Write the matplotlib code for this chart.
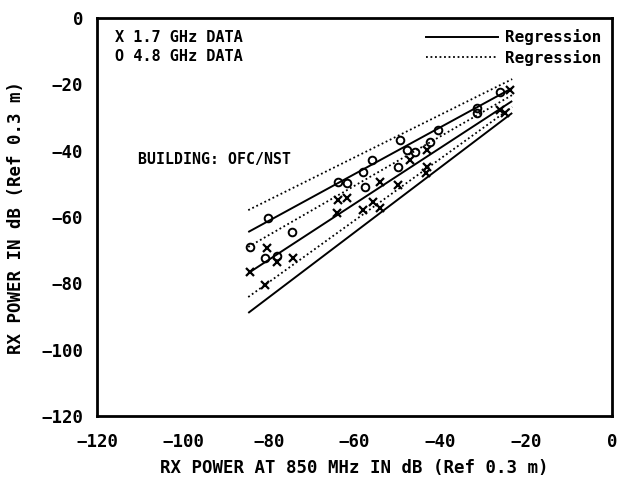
import matplotlib
matplotlib.use("Agg")
import matplotlib.pyplot as plt
from matplotlib.lines import Line2D

# ---- data ----
x_ticks = [-120, -100, -80, -60, -40, -20, 0]
y_ticks = [0, -20, -40, -60, -80, -100, -120]

o_x = [-80.1, -74.5, -84.3, -80.8, -78.0, -63.8, -61.7, -58.0, -55.9, -57.5,
       -49.8, -49.4, -47.7, -45.9, -42.4, -40.7, -31.4, -31.4, -26.1]
o_y = [-60.3, -64.5, -69.0, -72.4, -71.8, -49.4, -49.7, -46.4, -42.8, -51.0,
       -44.9, -36.8, -39.8, -40.4, -37.4, -33.8, -27.1, -28.6, -22.3]

x_x = [-80.4, -84.3, -78.0, -74.3, -80.8, -63.8, -61.7, -64.1, -58.0, -55.7,
       -54.0, -54.0, -49.8, -47.0, -43.1, -43.1, -43.5, -26.1, -23.7, -24.9]
x_y = [-69.3, -76.6, -73.6, -72.4, -80.5, -54.9, -54.3, -58.8, -57.9, -55.5,
       -49.4, -57.3, -50.3, -42.8, -39.8, -44.9, -46.7, -27.7, -21.7, -28.6]

line_x = [-84.8, -23.3]
solid_lines_y = [[-64.5, -21.1], [-76.9, -25.0], [-88.9, -28.6]]
dotted_lines_y = [[-57.9, -18.4], [-69.0, -23.2], [-84.1, -26.8]]

FONT = "DejaVu Sans Mono"

fig = plt.figure(figsize=(6.19, 4.93), dpi=100)
ax = fig.add_axes([0.157, 0.156, 0.832, 0.8073])

for ys in solid_lines_y:
    ax.plot(line_x, ys, color="black", lw=1.4, solid_capstyle="butt")
for ys in dotted_lines_y:
    ax.plot(line_x, ys, color="black", lw=1.3, linestyle=(0, (1, 1.5)))

ax.plot(o_x, o_y, linestyle="none", marker="o", markersize=5.5,
        markerfacecolor="none", markeredgecolor="black", markeredgewidth=1.4)
ax.plot(x_x, x_y, linestyle="none", marker="x", markersize=5.5,
        color="black", markeredgewidth=1.6)

ax.set_xlim(-120, 0)
ax.set_ylim(-120, 0)
ax.set_xticks(x_ticks)
ax.set_yticks(y_ticks)
ax.tick_params(length=0, labelsize=12.5)
ax.tick_params(axis="x", pad=12)
ax.tick_params(axis="y", pad=10)
for lab in ax.get_xticklabels() + ax.get_yticklabels():
    lab.set_fontfamily(FONT)
    lab.set_fontweight("bold")
for sp in ax.spines.values():
    sp.set_linewidth(2)

ax.set_xlabel("RX POWER AT 850 MHz IN dB (Ref 0.3 m)", fontsize=12.5,
              fontfamily=FONT, fontweight="bold", labelpad=6)
ax.set_ylabel("RX POWER IN dB (Ref 0.3 m)", fontsize=12.5,
              fontfamily=FONT, fontweight="bold", labelpad=12)

ax.text(0.035, 0.952, "X 1.7 GHz DATA", transform=ax.transAxes, fontsize=11,
        fontfamily=FONT, fontweight="bold", va="center", ha="left")
ax.text(0.035, 0.903, "O 4.8 GHz DATA", transform=ax.transAxes, fontsize=11,
        fontfamily=FONT, fontweight="bold", va="center", ha="left")
ax.text(0.08, 0.645, "BUILDING: OFC/NST", transform=ax.transAxes, fontsize=10.7,
        fontfamily=FONT, fontweight="bold", va="center", ha="left")

handles = [Line2D([0], [0], color="black", lw=1.4),
           Line2D([0], [0], color="black", lw=1.3, linestyle=(0, (1, 1.5)))]
leg = ax.legend(handles, ["Regression", "Regression"], loc="upper right",
                frameon=False, handlelength=4.5, handletextpad=0.4,
                labelspacing=0.3, borderaxespad=0.3,
                prop={"family": FONT, "weight": "bold", "size": 11.5})

fig.savefig("out.png", dpi=100, facecolor="white")
